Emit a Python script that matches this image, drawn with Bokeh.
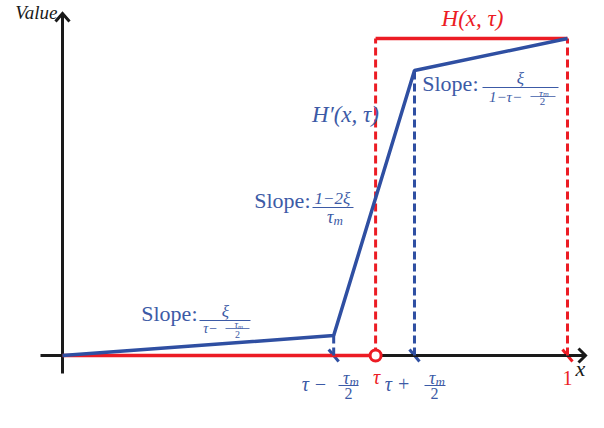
from bokeh.plotting import figure
from bokeh.models import Range1d
from bokeh.embed import file_html
from bokeh.resources import INLINE
from bokeh.core.properties import value

# ---------------- data ----------------
tau = 0.62          # position of tau on the x axis (x runs 0..1)
tau_lo = 0.537      # tau - tau_m/2
tau_hi = 0.697      # tau + tau_m/2
x_one = 1.0

# H'(x, tau): piecewise linear approximation (blue)
hp_x = [0.0, tau_lo, tau_hi, x_one]
hp_y = [0.0, 0.063, 0.899, 1.0]

# H(x, tau): step function (red)
h_low_x = [0.0, tau]
h_low_y = [0.0, 0.0]
h_high_x = [tau, x_one]
h_high_y = [1.0, 1.0]
h_step_x = [tau, x_one]          # dashed verticals of H
blue_drop_x = [tau_lo, tau_hi]   # dashed verticals of H'
blue_drop_y = [hp_y[1], hp_y[2]]

# ---------------- layout ----------------
RED = "#EC1C24"
BLUE = "#2F4FA2"
TBLUE = "#3C5AA6"
BLACK = "#1A1A1A"
FONT = "Liberation Serif"

W, H = 588, 412
PX, PY = 505.0, 317.0      # pixels per unit
OX, OY = 62.0, 355.0       # pixel of the origin inside the figure


def D(px, py):
    return (px - OX) / PX, (OY - py) / PY


p = figure(width=W, height=H,
           x_range=Range1d(-OX / PX, (W - OX) / PX),
           y_range=Range1d((OY - H) / PY, OY / PY),
           toolbar_location=None, output_backend="svg",
           x_axis_type=None, y_axis_type=None, min_border=0)
p.outline_line_color = None
p.background_fill_color = "white"
p.border_fill_color = "white"

# break marks on the x axis (drawn under the axis)
for xm, col in [(tau_lo, BLUE), (tau_hi, BLUE), (x_one, RED)]:
    dx = 5.0 / PX
    dy = 6.0 / PY
    p.segment(x0=[xm - dx], y0=[dy], x1=[xm + dx], y1=[-dy],
              line_color=col, line_width=3)

# axes
ax0, _ = D(40, OY)
ax1, _ = D(585, OY)
p.line([ax0, ax1], [0, 0], line_color=BLACK, line_width=3)
ay0 = D(OX, 373)[1]
ay1 = D(OX, 13)[1]
p.line([0, 0], [ay0, ay1], line_color=BLACK, line_width=3)
# arrow heads
p.line([ax1 - 7 / PX, ax1, ax1 - 7 / PX], [7 / PY, 0, -7 / PY],
       line_color=BLACK, line_width=3, line_join="miter")
p.line([-7 / PX, 0, 7 / PX], [ay1 - 8 / PY, ay1, ay1 - 8 / PY],
       line_color=BLACK, line_width=3, line_join="miter")

# H(x, tau)
p.segment(x0=h_step_x, y0=[0, 0], x1=h_step_x, y1=[1, 1],
          line_color=RED, line_width=3, line_dash="8 4")
p.line(h_low_x, h_low_y, line_color=RED, line_width=3.5)
p.line(h_high_x, h_high_y, line_color=RED, line_width=3.5)

# H'(x, tau)
p.segment(x0=blue_drop_x, y0=[0, 0], x1=blue_drop_x, y1=blue_drop_y,
          line_color=BLUE, line_width=3, line_dash="8 4")
p.line(hp_x, hp_y, line_color=BLUE, line_width=3.5)

p.scatter(x=[tau], y=[0], size=11, marker="circle", fill_color="white",
          line_color=RED, line_width=3)


# ---------------- text helpers (py = visual centre) ----------------
def txt(s, px, py, size, color, align="center", style="italic"):
    x, y = D(px, py)
    p.text(x=[x], y=[y], text=[s], text_font=value(FONT),
           text_font_size=value(f"{size}px"), text_color=color,
           text_align=align, text_baseline="middle", text_font_style=style)


def bar(x0, x1, py, color, w=1):
    a, y = D(x0, py)
    b, _ = D(x1, py)
    p.segment(x0=[a], y0=[y], x1=[b], y1=[y], line_color=color, line_width=w)


def taum(cx, cy, size, color):
    txt("τ", cx + 0.05 * size, cy, size, color, align="right")
    txt("m", cx + 0.05 * size, cy + 0.2 * size, round(size * 0.7),
        color, align="left")


# axis labels
txt("Value", 57, 12, 19, BLACK, align="right")
txt("x", 580, 368, 22, BLACK)

# curve labels
txt("H(x, τ)", 472, 18, 23, RED)
txt("H′(x, τ)", 345, 114, 23, TBLUE)

# slope label 1 (left segment)
txt("Slope:", 197, 313, 22, TBLUE, align="right", style="normal")
bar(199, 250, 320, TBLUE)
txt("ξ", 225, 311, 17, TBLUE)
txt("τ−", 210, 328, 14, TBLUE)
bar(225, 249, 328, TBLUE, 0.8)
taum(237, 324, 10, TBLUE)
txt("2", 237, 334, 10, TBLUE, style="normal")

# slope label 2 (steep segment)
txt("Slope:", 310, 200, 22, TBLUE, align="right", style="normal")
bar(312, 353, 207, TBLUE)
txt("1−2ξ", 332, 198, 17, TBLUE)
taum(332, 216, 18, TBLUE)

# slope label 3 (right segment)
txt("Slope:", 478, 83, 22, TBLUE, align="right", style="normal")
bar(482, 558, 87, TBLUE)
txt("ξ", 520, 78, 17, TBLUE)
txt("1−τ−", 505, 96, 15, TBLUE)
bar(530, 555, 96, TBLUE, 0.8)
taum(542, 92, 11, TBLUE)
txt("2", 542, 101, 11, TBLUE, style="normal")

# x-axis tick labels
txt("τ −", 314, 383, 20, TBLUE)
bar(338, 358, 385, TBLUE)
taum(348, 377, 18, TBLUE)
txt("2", 348, 393, 16, TBLUE, style="normal")

txt("τ", 376, 376, 20, RED)

txt("τ +", 397, 383, 20, TBLUE)
bar(424, 445, 385, TBLUE)
taum(434, 377, 18, TBLUE)
txt("2", 434, 393, 16, TBLUE, style="normal")

txt("1", 567, 377, 20, RED, style="normal")

open("out.html", "w").write(file_html(p, INLINE))
